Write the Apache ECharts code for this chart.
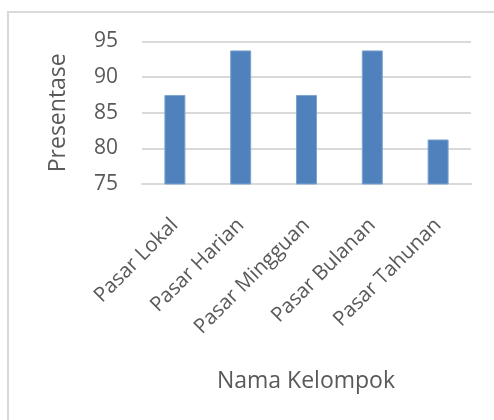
<!DOCTYPE html>
<html>
<head>
<meta charset="utf-8">
<script src="https://cdn.jsdelivr.net/npm/echarts@6/dist/echarts.min.js"></script>
<style>html,body{margin:0;padding:0;background:#fff;}#c{width:494px;height:420px;}</style>
</head>
<body>
<div id="c"></div>
<script>
const categories = ['Pasar Lokal', 'Pasar Harian', 'Pasar Mingguan', 'Pasar Bulanan', 'Pasar Tahunan'];
const values = [87.5, 93.75, 87.5, 93.75, 81.25];
const yTicks = [75, 80, 85, 90, 95];
const yName = 'Presentase';
const xName = 'Nama Kelompok';

const font = 'Open Sans, Lato, sans-serif';
const chart = echarts.init(document.getElementById('c'));
chart.setOption({
  animation: false,
  backgroundColor: '#fff',
  graphic: [{
    type: 'rect', left: 7, top: 11, z: -1,
    shape: { width: 520, height: 440 },
    style: { fill: '#fff', stroke: '#d9d9d9', lineWidth: 2 }
  }, {
    type: 'text', x: 306, y: 381,
    style: { text: xName, fill: '#595959', font: '23px ' + font, align: 'center', verticalAlign: 'middle' }
  }],
  grid: { left: 142, right: 23, top: 41.5, bottom: 236, containLabel: false },
  xAxis: {
    type: 'category', data: categories,
    axisLine: { lineStyle: { color: '#d9d9d9', width: 2 } },
    axisTick: { show: false },
    axisLabel: { rotate: 45, color: '#595959', fontSize: 20.5, fontFamily: font, margin: 38, interval: 0 }
  },
  yAxis: {
    type: 'value', min: yTicks[0], max: yTicks[yTicks.length - 1], interval: 5,
    name: yName, nameLocation: 'middle', nameGap: 72, nameRotate: 90,
    nameTextStyle: { color: '#595959', fontSize: 23, fontFamily: font },
    axisLine: { show: false }, axisTick: { show: false },
    axisLabel: { color: '#595959', fontSize: 21, fontFamily: font, margin: 24 },
    splitLine: { lineStyle: { color: '#d9d9d9', width: 2 } }
  },
  series: [{
    type: 'bar', data: values, barWidth: 21,
    itemStyle: { color: '#4f81bd', borderColor: '#7fa3cf', borderWidth: 1 }
  }]
});
</script>
</body>
</html>
